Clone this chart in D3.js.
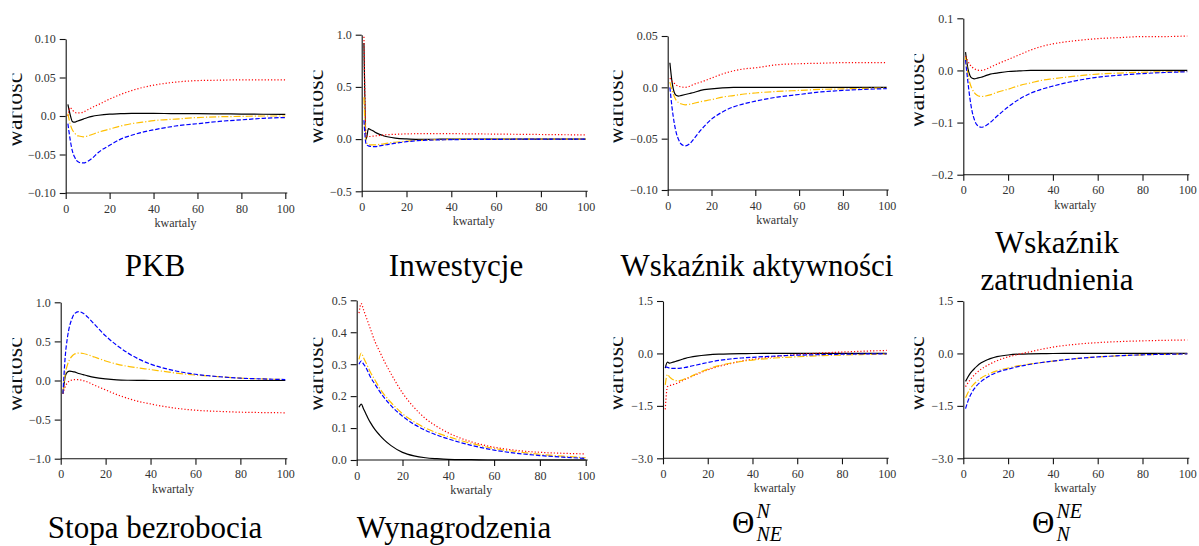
<!DOCTYPE html>
<html>
<head>
<meta charset="utf-8">
<title>Funkcje reakcji</title>
<script src="https://cdn.jsdelivr.net/npm/d3@7"></script>
<style>
  body { margin: 0; background: #fff; }
  svg { display: block; }
  svg text { font-family: 'Liberation Serif', 'Times New Roman', Tinos, 'DejaVu Serif', serif; }
  .axis text { font-size: 12px; fill: #333; }
  .axis line, .axis path { stroke: #111; stroke-width: 1.1px; }
  .xlab { font-size: 12px; fill: #333; }
  .ylab { font-size: 24px; fill: #111; }
  .tytul { font-size: 31px; fill: #000; }
  .indeks { font-size: 20px; font-style: italic; fill: #000; }
  path.linia { fill: none; stroke-width: 1.2px; }
</style>
</head>
<body>
<div id="chart"></div>
<script>
// kwartały, w których odczytano wartości z wykresów
var kwartaly = [1, 2, 3, 4, 5, 6, 8, 10, 12, 15, 20, 25, 30, 35, 40, 50, 60, 70, 80, 90, 100];
var xTicks = [0, 20, 40, 60, 80, 100];

// PKB
var pkbCzarna = [0.015, 0.002, -0.007, -0.008, -0.007, -0.006, -0.004, -0.002, -0.0005, 0.001, 0.0025, 0.003, 0.0035, 0.0035, 0.0035, 0.003, 0.003, 0.0028, 0.0025, 0.0023, 0.002];
var pkbCzerwona = [0.0, 0.011, 0.008, 0.005, 0.004, 0.004, 0.005, 0.008, 0.011, 0.015, 0.022, 0.028, 0.033, 0.037, 0.040, 0.044, 0.046, 0.0465, 0.047, 0.047, 0.047];
var pkbZolta = [0.003, -0.010, -0.018, -0.022, -0.025, -0.026, -0.027, -0.026, -0.024, -0.021, -0.017, -0.013, -0.010, -0.008, -0.006, -0.004, -0.002, -0.001, -0.0005, 0.0, 0.0];
var pkbNiebieska = [-0.010, -0.030, -0.045, -0.053, -0.058, -0.060, -0.061, -0.059, -0.055, -0.047, -0.038, -0.030, -0.025, -0.021, -0.018, -0.013, -0.010, -0.007, -0.005, -0.003, -0.002];

// Inwestycje
var invCzarna = [0.92, 0.0, 0.10, 0.09, 0.08, 0.065, 0.045, 0.03, 0.02, 0.01, 0.002, -0.002, -0.002, -0.001, 0, 0, 0, 0, 0, 0, 0];
var invCzerwona = [0.98, 0.03, 0.025, 0.025, 0.028, 0.03, 0.035, 0.04, 0.043, 0.046, 0.05, 0.052, 0.053, 0.053, 0.052, 0.05, 0.048, 0.046, 0.044, 0.042, 0.04];
var invZolta = [0.40, -0.03, -0.05, -0.055, -0.055, -0.055, -0.05, -0.045, -0.038, -0.03, -0.02, -0.012, -0.008, -0.005, -0.003, -0.002, -0.001, 0, 0, 0, 0];
var invNiebieska = [0.18, -0.05, -0.065, -0.07, -0.072, -0.072, -0.065, -0.058, -0.05, -0.04, -0.025, -0.015, -0.01, -0.007, -0.005, -0.003, -0.002, -0.001, 0, 0, 0];

// Wskaźnik aktywności
var aktCzarna = [0.024, 0.005, -0.005, -0.008, -0.0085, -0.008, -0.007, -0.006, -0.005, -0.003, -0.0015, -0.0005, 0, 0, 0, 0, 0, 0, 0, 0, 0];
var aktCzerwona = [0.009, 0.006, 0.004, 0.002, 0.001, 0.0005, 0.0, 0.001, 0.003, 0.005, 0.009, 0.013, 0.016, 0.018, 0.019, 0.022, 0.023, 0.0235, 0.024, 0.024, 0.024];
var aktZolta = [0.005, -0.003, -0.009, -0.013, -0.015, -0.016, -0.017, -0.0165, -0.0155, -0.014, -0.012, -0.0095, -0.008, -0.0065, -0.0055, -0.004, -0.003, -0.002, -0.0015, -0.001, -0.0006];
var aktNiebieska = [0.0, -0.02, -0.035, -0.045, -0.051, -0.055, -0.057, -0.055, -0.05, -0.042, -0.031, -0.024, -0.019, -0.016, -0.0135, -0.0095, -0.007, -0.0045, -0.003, -0.002, -0.0013];

// Wskaźnik zatrudnienia
var zatCzarna = [0.035, 0.005, -0.01, -0.015, -0.016, -0.015, -0.013, -0.01, -0.007, -0.005, -0.002, -0.001, 0, 0, 0, 0, 0, 0, 0, 0, 0];
var zatCzerwona = [0.027, 0.018, 0.011, 0.006, 0.003, 0.001, 0.0, 0.002, 0.006, 0.012, 0.021, 0.030, 0.039, 0.046, 0.051, 0.057, 0.061, 0.063, 0.065, 0.065, 0.066];
var zatZolta = [0.025, -0.005, -0.025, -0.036, -0.043, -0.047, -0.050, -0.049, -0.047, -0.042, -0.036, -0.029, -0.024, -0.019, -0.016, -0.011, -0.007, -0.005, -0.0035, -0.0025, -0.002];
var zatNiebieska = [0.02, -0.02, -0.055, -0.08, -0.095, -0.104, -0.109, -0.106, -0.1, -0.088, -0.07, -0.055, -0.044, -0.036, -0.03, -0.02, -0.013, -0.009, -0.006, -0.004, -0.0025];

// Stopa bezrobocia
var bezCzarna = [-0.17, 0.05, 0.11, 0.12, 0.115, 0.11, 0.09, 0.075, 0.06, 0.04, 0.02, 0.008, 0.003, 0.001, 0, 0, 0, 0, 0, 0, 0];
var bezCzerwona = [-0.17, -0.08, -0.03, -0.005, 0.005, 0.01, 0.01, 0.0, -0.02, -0.06, -0.12, -0.18, -0.23, -0.27, -0.30, -0.35, -0.38, -0.395, -0.405, -0.41, -0.413];
var bezZolta = [-0.17, 0.08, 0.2, 0.27, 0.31, 0.335, 0.35, 0.345, 0.33, 0.3, 0.25, 0.21, 0.18, 0.16, 0.14, 0.1, 0.07, 0.05, 0.03, 0.02, 0.012];
var bezNiebieska = [-0.17, 0.3, 0.55, 0.7, 0.79, 0.85, 0.88, 0.86, 0.81, 0.72, 0.57, 0.45, 0.35, 0.27, 0.21, 0.13, 0.08, 0.05, 0.03, 0.02, 0.012];

// Wynagrodzenia
var wynCzarna = [0.165, 0.175, 0.16, 0.145, 0.13, 0.117, 0.095, 0.078, 0.063, 0.045, 0.024, 0.013, 0.007, 0.004, 0.002, 0.001, 0, 0, 0, 0, 0];
var wynCzerwona = [0.46, 0.49, 0.47, 0.45, 0.43, 0.41, 0.37, 0.34, 0.31, 0.27, 0.21, 0.165, 0.13, 0.105, 0.085, 0.057, 0.04, 0.03, 0.024, 0.021, 0.019];
var wynZolta = [0.315, 0.335, 0.32, 0.305, 0.29, 0.275, 0.25, 0.225, 0.205, 0.18, 0.145, 0.12, 0.1, 0.085, 0.073, 0.052, 0.036, 0.026, 0.018, 0.012, 0.007];
var wynNiebieska = [0.3, 0.31, 0.3, 0.29, 0.275, 0.26, 0.237, 0.215, 0.195, 0.17, 0.137, 0.112, 0.093, 0.078, 0.066, 0.046, 0.031, 0.021, 0.014, 0.009, 0.005];

// Theta N_NE
var tneCzarna = [-0.42, -0.25, -0.28, -0.26, -0.24, -0.22, -0.18, -0.14, -0.11, -0.075, -0.04, -0.02, -0.01, -0.005, -0.002, 0, 0, 0, 0, 0, 0];
var tneCzerwona = [-1.6, -0.95, -0.92, -0.9, -0.88, -0.86, -0.8, -0.74, -0.68, -0.6, -0.47, -0.37, -0.29, -0.22, -0.17, -0.09, -0.03, 0.01, 0.04, 0.065, 0.085];
var tneZolta = [-0.9, -0.6, -0.68, -0.73, -0.76, -0.78, -0.77, -0.72, -0.67, -0.58, -0.45, -0.35, -0.28, -0.23, -0.19, -0.13, -0.095, -0.065, -0.045, -0.03, -0.02];
var tneNiebieska = [-0.38, -0.40, -0.42, -0.43, -0.43, -0.43, -0.42, -0.40, -0.37, -0.33, -0.26, -0.2, -0.16, -0.13, -0.11, -0.075, -0.05, -0.035, -0.022, -0.015, -0.01];

// Theta NE_N
var tenCzarna = [-0.8, -0.68, -0.58, -0.5, -0.43, -0.37, -0.27, -0.2, -0.15, -0.09, -0.045, -0.02, -0.01, -0.005, -0.002, 0, 0, 0, 0, 0, 0];
var tenCzerwona = [-0.95, -0.85, -0.76, -0.68, -0.61, -0.55, -0.45, -0.37, -0.3, -0.21, -0.1, -0.02, 0.05, 0.12, 0.18, 0.26, 0.31, 0.34, 0.36, 0.375, 0.385];
var tenZolta = [-1.27, -1.13, -1.02, -0.93, -0.86, -0.8, -0.7, -0.63, -0.57, -0.5, -0.42, -0.35, -0.3, -0.26, -0.22, -0.15, -0.1, -0.065, -0.04, -0.025, -0.015];
var tenNiebieska = [-1.58, -1.38, -1.22, -1.1, -1.0, -0.92, -0.8, -0.71, -0.63, -0.54, -0.45, -0.37, -0.31, -0.26, -0.22, -0.15, -0.1, -0.065, -0.04, -0.025, -0.015];

// osie Y
var pkbTicks = [-0.10, -0.05, 0, 0.05, 0.10], pkbLabels = ["−0.10", "−0.05", "0.0", "0.05", "0.10"];
var invTicks = [-0.5, 0, 0.5, 1.0], invLabels = ["−0.5", "0.0", "0.5", "1.0"];
var aktTicks = [-0.10, -0.05, 0, 0.05], aktLabels = ["−0.10", "−0.05", "0.0", "0.05"];
var zatTicks = [-0.2, -0.1, 0, 0.1], zatLabels = ["−0.2", "−0.1", "0.0", "0.1"];
var bezTicks = [-1.0, -0.5, 0, 0.5, 1.0], bezLabels = ["−1.0", "−0.5", "0.0", "0.5", "1.0"];
var wynTicks = [0, 0.1, 0.2, 0.3, 0.4, 0.5], wynLabels = ["0.0", "0.1", "0.2", "0.3", "0.4", "0.5"];
var thTicks = [-3.0, -1.5, 0, 1.5], thLabels = ["−3.0", "−1.5", "0.0", "1.5"];

var tytuly = [["PKB"], ["Inwestycje"], ["Wskaźnik aktywności"], ["Wskaźnik", "zatrudnienia"],
              ["Stopa bezrobocia"], ["Wynagrodzenia"], ["Θ", "N", "NE"], ["Θ", "NE", "N"]];

var styleLinii = [
  {color: "#000000", dash: null},
  {color: "#ff0000", dash: "1.2,2"},
  {color: "#ffbf00", dash: "7,2,1.2,2"},
  {color: "#0000ff", dash: "4.4,1.9"}
];

// rozmieszczenie paneli (piksele)
var uklad = [
  {x0: 65.7, x1: 285.3, yTop: 39, yBot: 193, labX: 22, tx: 155, ty: [276]},
  {x0: 361.7, x1: 585.7, yTop: 34.7, yBot: 191.3, labX: 323, tx: 456, ty: [276]},
  {x0: 667.7, x1: 886.7, yTop: 36, yBot: 190, labX: 623, tx: 757, ty: [276]},
  {x0: 963.3, x1: 1187.3, yTop: 18.3, yBot: 174.7, labX: 924, tx: 1057, ty: [253, 290]},
  {x0: 60.7, x1: 285.3, yTop: 302.3, yBot: 458.7, labX: 22, tx: 155, ty: [538]},
  {x0: 356.7, x1: 585.7, yTop: 300.3, yBot: 460, labX: 323, tx: 454, ty: [538]},
  {x0: 663, x1: 886.7, yTop: 301, yBot: 458.3, labX: 623, tx: 757, ty: [533]},
  {x0: 963.3, x1: 1187.3, yTop: 301, yBot: 458.3, labX: 924, tx: 1057, ty: [533]}
];

var panele = [
  {ticks: pkbTicks, labels: pkbLabels, serie: [pkbCzarna, pkbCzerwona, pkbZolta, pkbNiebieska]},
  {ticks: invTicks, labels: invLabels, serie: [invCzarna, invCzerwona, invZolta, invNiebieska]},
  {ticks: aktTicks, labels: aktLabels, serie: [aktCzarna, aktCzerwona, aktZolta, aktNiebieska]},
  {ticks: zatTicks, labels: zatLabels, serie: [zatCzarna, zatCzerwona, zatZolta, zatNiebieska]},
  {ticks: bezTicks, labels: bezLabels, serie: [bezCzarna, bezCzerwona, bezZolta, bezNiebieska]},
  {ticks: wynTicks, labels: wynLabels, serie: [wynCzarna, wynCzerwona, wynZolta, wynNiebieska]},
  {ticks: thTicks, labels: thLabels, serie: [tneCzarna, tneCzerwona, tneZolta, tneNiebieska]},
  {ticks: thTicks, labels: thLabels, serie: [tenCzarna, tenCzerwona, tenZolta, tenNiebieska]}
];

var width = 1199, height = 546;

var svg = d3.select("#chart").append("svg")
    .attr("width", width)
    .attr("height", height);

svg.append("rect").attr("width", width).attr("height", height).attr("fill", "#fff");

var defs = svg.append("defs");

panele.forEach(function(p, i) {
  var u = uklad[i];
  var g = svg.append("g");

  var x = d3.scaleLinear().domain([0, 100]).range([u.x0, u.x1]);
  var y = d3.scaleLinear()
      .domain([d3.min(p.ticks), d3.max(p.ticks)])
      .range([u.yBot, u.yTop]);

  // oś X
  var gx = g.append("g")
      .attr("class", "axis")
      .attr("font-family", null)
      .attr("transform", "translate(0," + u.yBot + ")")
      .call(d3.axisBottom(x).tickValues(xTicks).tickSize(6).tickSizeOuter(0).tickPadding(5));
  gx.attr("font-family", null).attr("font-size", null);
  gx.select(".domain").remove();
  gx.append("line")
      .attr("x1", u.x0).attr("x2", u.x1 + 2)
      .attr("y1", 0).attr("y2", 0);

  // oś Y
  var gy = g.append("g")
      .attr("class", "axis")
      .attr("transform", "translate(" + u.x0 + ",0)")
      .call(d3.axisLeft(y).tickValues(p.ticks)
        .tickFormat(function(d, j) { return p.labels[j]; })
        .tickSize(6).tickSizeOuter(0).tickPadding(4));
  gy.attr("font-family", null).attr("font-size", null);

  g.append("text")
      .attr("class", "xlab")
      .attr("x", (u.x0 + u.x1) / 2)
      .attr("y", u.yBot + 34)
      .attr("text-anchor", "middle")
      .text("kwartaly");

  // obcięta etykieta osi Y
  defs.append("clipPath").attr("id", "clip" + i)
    .append("rect")
      .attr("x", u.labX - 9.5).attr("y", 0)
      .attr("width", 40).attr("height", height);
  var cy = (u.yTop + u.yBot) / 2 - 6;
  g.append("g").attr("clip-path", "url(#clip" + i + ")")
    .append("text")
      .attr("class", "ylab")
      .attr("text-anchor", "middle")
      .attr("transform", "translate(" + u.labX + "," + cy + ") rotate(-90)")
      .text("wartość");

  // linie
  var line = d3.line()
      .x(function(d, j) { return x(kwartaly[j]); })
      .y(function(d) { return y(d); })
      .curve(d3.curveMonotoneX);

  p.serie.forEach(function(s, k) {
    g.append("path")
      .attr("class", "linia")
      .attr("d", line(s))
      .attr("stroke", styleLinii[k].color)
      .attr("stroke-dasharray", styleLinii[k].dash);
  });

  // tytuł
  var t = tytuly[i];
  if (t[0] === "Θ") {
    var tg = svg.append("g");
    var th = tg.append("text").attr("class", "tytul").attr("y", u.ty[0]).text(t[0]);
    var sup = tg.append("text").attr("class", "indeks").attr("y", u.ty[0] - 15).text(t[1]);
    var sub = tg.append("text").attr("class", "indeks").attr("y", u.ty[0] + 8).text(t[2]);
    var wTh = th.node().getComputedTextLength();
    var wIdx = Math.max(sup.node().getComputedTextLength(), sub.node().getComputedTextLength());
    var start = u.tx - (wTh + 2 + wIdx) / 2;
    th.attr("x", start);
    sup.attr("x", start + wTh + 2);
    sub.attr("x", start + wTh + 2);
  } else {
    t.forEach(function(s, k) {
      svg.append("text")
        .attr("class", "tytul")
        .attr("x", u.tx)
        .attr("y", u.ty[k])
        .attr("text-anchor", "middle")
        .text(s);
    });
  }
});
</script>
</body>
</html>
